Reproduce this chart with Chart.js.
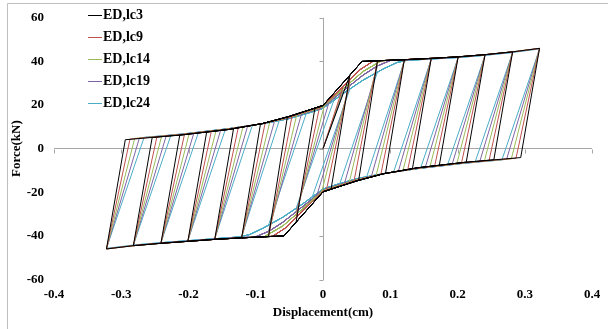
<!DOCTYPE html>
<html>
<head>
<meta charset="utf-8">
<script src="https://cdn.jsdelivr.net/npm/chart.js"></script>
<style>
  html, body { margin: 0; padding: 0; background: #fff; }
</style>
</head>
<body>
<canvas id="chart" width="608" height="329"></canvas>
<script>
// series
const seriesNames = ['ED,lc3', 'ED,lc9', 'ED,lc14', 'ED,lc19', 'ED,lc24'];
const seriesColors = ['#000000', '#c0504d', '#9bbb59', '#8064a2', '#4bacc6'];

// axis ticks
const xTicks = [-0.4, -0.3, -0.2, -0.1, 0, 0.1, 0.2, 0.3, 0.4];
const xTickLabels = ['-0.4', '-0.3', '-0.2', '-0.1', '0', '0.1', '0.2', '0.3', '0.4'];
const yTicks = [-60, -40, -20, 0, 20, 40, 60];
const yTickLabels = ['-60', '-40', '-20', '0', '20', '40', '60'];

// ED,lc3  [displacement cm, force kN]
const lc3Upper = [[-0.29,4.2],[-0.21,6.3],[-0.14,8.8],[-0.09,11.5],[-0.05,14.8],[-0.02,17.8],[0,19.8],[0.058,40],[0.121,40.8],[0.161,41.4],[0.201,42.1],[0.241,43.1],[0.282,44.4]];
const lc3Lower = [[0.29,-4.2],[0.21,-6.3],[0.14,-8.8],[0.09,-11.5],[0.05,-14.8],[0.02,-17.8],[0,-19.8],[-0.058,-40],[-0.121,-40.9],[-0.161,-41.6],[-0.201,-42.5],[-0.241,-43.4],[-0.282,-44.5]];
const lc3PosPeaks = [[0.04,33.7],[0.081,40.3],[0.121,40.8],[0.161,41.4],[0.201,42.1],[0.241,43.1],[0.282,44.4],[0.322,46.0]];
const lc3NegPeaks = [[-0.04,-33.7],[-0.081,-40.3],[-0.121,-40.9],[-0.161,-41.6],[-0.201,-42.5],[-0.241,-43.4],[-0.282,-44.5],[-0.322,-46.0]];
const lc3PosJoins = [[0.012,-18.6],[0.053,-14.5],[0.093,-11.3],[0.133,-9.2],[0.173,-7.6],[0.213,-6.2],[0.254,-5.1],[0.294,-4.1]];
const lc3NegJoins = [[-0.012,18.6],[-0.053,14.5],[-0.093,11.3],[-0.133,9.2],[-0.173,7.6],[-0.213,6.2],[-0.254,5.1],[-0.294,4.1]];

// ED,lc9
const lc9Upper = [[-0.29,4.3],[-0.21,6.4],[-0.14,8.9],[-0.09,11.5],[-0.05,14.6],[-0.02,17.6],[0,19.6],[0.03,28.5],[0.055,36.2],[0.075,40.2],[0.121,40.8],[0.161,41.4],[0.201,42.1],[0.241,43.1],[0.282,44.4]];
const lc9Lower = [[0.29,-4.3],[0.21,-6.4],[0.14,-8.9],[0.09,-11.5],[0.05,-14.6],[0.02,-17.6],[0,-19.6],[-0.03,-28.5],[-0.055,-36.2],[-0.075,-40.2],[-0.121,-40.9],[-0.161,-41.6],[-0.201,-42.5],[-0.241,-43.4],[-0.282,-44.5]];
const lc9PosPeaks = [[0.04,31.6],[0.081,40.3],[0.121,40.8],[0.161,41.4],[0.201,42.1],[0.241,43.1],[0.282,44.4],[0.322,46.0]];
const lc9NegPeaks = [[-0.04,-31.6],[-0.081,-40.3],[-0.121,-40.9],[-0.161,-41.6],[-0.201,-42.5],[-0.241,-43.4],[-0.282,-44.5],[-0.322,-46.0]];
const lc9PosJoins = [[0.005,-19.1],[0.046,-15.0],[0.086,-11.8],[0.126,-9.6],[0.166,-8.0],[0.206,-6.5],[0.247,-5.4],[0.287,-4.4]];
const lc9NegJoins = [[-0.005,19.1],[-0.046,15.0],[-0.086,11.8],[-0.126,9.6],[-0.166,8.0],[-0.206,6.5],[-0.247,5.4],[-0.287,4.4]];

// ED,lc14
const lc14Upper = [[-0.29,4.4],[-0.21,6.5],[-0.14,9.0],[-0.09,11.5],[-0.05,14.4],[-0.02,17.3],[0,19.3],[0.03,27.5],[0.06,35.5],[0.087,40.3],[0.121,40.8],[0.161,41.4],[0.201,42.1],[0.241,43.1],[0.282,44.4]];
const lc14Lower = [[0.29,-4.4],[0.21,-6.5],[0.14,-9.0],[0.09,-11.5],[0.05,-14.4],[0.02,-17.3],[0,-19.3],[-0.03,-27.5],[-0.06,-35.5],[-0.087,-40.3],[-0.121,-40.9],[-0.161,-41.6],[-0.201,-42.5],[-0.241,-43.4],[-0.282,-44.5]];
const lc14PosPeaks = [[0.04,30.2],[0.081,39.2],[0.121,40.8],[0.161,41.4],[0.201,42.1],[0.241,43.1],[0.282,44.4],[0.322,46.0]];
const lc14NegPeaks = [[-0.04,-30.2],[-0.081,-39.2],[-0.121,-40.9],[-0.161,-41.6],[-0.201,-42.5],[-0.241,-43.4],[-0.282,-44.5],[-0.322,-46.0]];
const lc14PosJoins = [[-0.002,-19.8],[0.039,-15.5],[0.079,-12.3],[0.119,-10.0],[0.159,-8.3],[0.199,-6.9],[0.24,-5.7],[0.28,-4.7]];
const lc14NegJoins = [[0.002,19.8],[-0.039,15.5],[-0.079,12.3],[-0.119,10.0],[-0.159,8.3],[-0.199,6.9],[-0.24,5.7],[-0.28,4.7]];

// ED,lc19
const lc19Upper = [[-0.29,4.5],[-0.21,6.6],[-0.14,9.1],[-0.09,11.5],[-0.05,14.2],[-0.02,17.0],[0,19.0],[0.03,26.5],[0.06,33.8],[0.08,37.8],[0.1,40.4],[0.121,40.7],[0.161,41.3],[0.201,42.0],[0.241,43.0],[0.282,44.3]];
const lc19Lower = [[0.29,-4.5],[0.21,-6.6],[0.14,-9.1],[0.09,-11.5],[0.05,-14.2],[0.02,-17.0],[0,-19.0],[-0.03,-26.5],[-0.06,-33.8],[-0.08,-37.8],[-0.1,-40.4],[-0.121,-40.8],[-0.161,-41.5],[-0.201,-42.4],[-0.241,-43.3],[-0.282,-44.4]];
const lc19PosPeaks = [[0.04,28.9],[0.081,37.9],[0.121,40.7],[0.161,41.3],[0.201,42.0],[0.241,43.0],[0.282,44.3],[0.322,45.9]];
const lc19NegPeaks = [[-0.04,-28.9],[-0.081,-37.9],[-0.121,-40.8],[-0.161,-41.5],[-0.201,-42.4],[-0.241,-43.3],[-0.282,-44.4],[-0.322,-45.9]];
const lc19PosJoins = [[-0.009,-21.3],[0.032,-15.9],[0.072,-12.7],[0.112,-10.4],[0.152,-8.7],[0.192,-7.2],[0.233,-6.0],[0.273,-4.9]];
const lc19NegJoins = [[0.009,21.3],[-0.032,15.9],[-0.072,12.7],[-0.112,10.4],[-0.152,8.7],[-0.192,7.2],[-0.233,6.0],[-0.273,4.9]];

// ED,lc24
const lc24Upper = [[-0.29,4.6],[-0.21,6.7],[-0.14,9.2],[-0.09,11.4],[-0.05,13.8],[-0.02,16.5],[0,18.5],[0.03,25.3],[0.06,31.5],[0.09,36.6],[0.11,39.5],[0.125,40.5],[0.161,41.1],[0.201,41.8],[0.241,42.8],[0.282,44.1]];
const lc24Lower = [[0.29,-4.6],[0.21,-6.7],[0.14,-9.2],[0.09,-11.4],[0.05,-13.8],[0.02,-16.5],[0,-18.5],[-0.03,-25.3],[-0.06,-31.5],[-0.09,-36.6],[-0.11,-39.5],[-0.125,-40.5],[-0.161,-41.3],[-0.201,-42.2],[-0.241,-43.1],[-0.282,-44.2]];
const lc24PosPeaks = [[0.04,27.4],[0.081,35.1],[0.121,40.2],[0.161,41.1],[0.201,41.8],[0.241,42.8],[0.282,44.1],[0.322,45.7]];
const lc24NegPeaks = [[-0.04,-27.4],[-0.081,-35.1],[-0.121,-40.2],[-0.161,-41.3],[-0.201,-42.2],[-0.241,-43.1],[-0.282,-44.2],[-0.322,-45.7]];
const lc24PosJoins = [[-0.016,-22.1],[0.025,-16.0],[0.065,-12.9],[0.105,-10.7],[0.145,-9.0],[0.185,-7.6],[0.226,-6.3],[0.266,-5.2]];
const lc24NegJoins = [[0.016,22.1],[-0.025,16.0],[-0.065,12.9],[-0.105,10.7],[-0.145,9.0],[-0.185,7.6],[-0.226,6.3],[-0.266,5.2]];

// put the read points in cycle order: branch -> peak -> unloading -> branch -> peak ...
function buildLoop(upper, lower, posPeaks, negPeaks, posJoins, negJoins) {
  const pts = [{ x: 0, y: 0 }];
  for (let k = 0; k < posPeaks.length; k++) {
    let from = pts[pts.length - 1].x;
    upper.forEach(p => { if (p[0] > from && p[0] < posPeaks[k][0]) pts.push({ x: p[0], y: p[1] }); });
    pts.push({ x: posPeaks[k][0], y: posPeaks[k][1] });
    pts.push({ x: posJoins[k][0], y: posJoins[k][1] });
    from = posJoins[k][0];
    lower.forEach(p => { if (p[0] < from && p[0] > negPeaks[k][0]) pts.push({ x: p[0], y: p[1] }); });
    pts.push({ x: negPeaks[k][0], y: negPeaks[k][1] });
    pts.push({ x: negJoins[k][0], y: negJoins[k][1] });
  }
  // last reloading runs back along the upper branch
  const from = pts[pts.length - 1].x;
  upper.forEach(p => { if (p[0] > from && p[0] <= 0) pts.push({ x: p[0], y: p[1] }); });
  return pts;
}

const loops = [
  buildLoop(lc3Upper, lc3Lower, lc3PosPeaks, lc3NegPeaks, lc3PosJoins, lc3NegJoins),
  buildLoop(lc9Upper, lc9Lower, lc9PosPeaks, lc9NegPeaks, lc9PosJoins, lc9NegJoins),
  buildLoop(lc14Upper, lc14Lower, lc14PosPeaks, lc14NegPeaks, lc14PosJoins, lc14NegJoins),
  buildLoop(lc19Upper, lc19Lower, lc19PosPeaks, lc19NegPeaks, lc19PosJoins, lc19NegJoins),
  buildLoop(lc24Upper, lc24Lower, lc24PosPeaks, lc24NegPeaks, lc24PosJoins, lc24NegJoins)
];

const labelFont = { family: '"Liberation Serif", "Times New Roman", serif', size: 13, weight: 'bold' };
const axisGray = '#a6a6a6';

// axis tick marks on the zero lines, legend and the frame edges
const extras = {
  id: 'extras',
  beforeDatasetsDraw(chart) {
    const { ctx, scales: { x, y } } = chart;
    const x0 = Math.round(x.getPixelForValue(0)) + 0.5;
    const y0 = Math.round(y.getPixelForValue(0)) + 0.5;
    ctx.save();
    ctx.strokeStyle = axisGray;
    ctx.lineWidth = 1;
    ctx.beginPath();
    yTicks.forEach(v => {
      const py = Math.round(y.getPixelForValue(v)) + 0.5;
      ctx.moveTo(x0 - 4, py);
      ctx.lineTo(x0, py);
    });
    xTicks.forEach(v => {
      const px = Math.round(x.getPixelForValue(v)) + 0.5;
      ctx.moveTo(px, y0);
      ctx.lineTo(px, y0 + 4);
    });
    ctx.stroke();
    ctx.restore();
  },
  afterDraw(chart) {
    const ctx = chart.ctx;
    ctx.save();
    // frame: only the top and left edges are inside the picture
    ctx.strokeStyle = '#bfbfbf';
    ctx.lineWidth = 1;
    ctx.beginPath();
    ctx.moveTo(7.5, 329);
    ctx.lineTo(7.5, 3.5);
    ctx.lineTo(608, 3.5);
    ctx.stroke();

    ctx.font = 'bold 14px "Liberation Serif", "Times New Roman", serif';
    ctx.textBaseline = 'middle';
    ctx.fillStyle = '#000';
    seriesNames.forEach((name, i) => {
      const ly = 15 + i * 22;
      ctx.strokeStyle = seriesColors[i];
      ctx.beginPath();
      ctx.moveTo(88, Math.round(ly) + 0.5);
      ctx.lineTo(102, Math.round(ly) + 0.5);
      ctx.stroke();
      ctx.fillText(name, 103, ly);
    });
    ctx.restore();
  }
};

new Chart(document.getElementById('chart'), {
  type: 'scatter',
  data: {
    datasets: seriesNames.map((name, i) => ({
      label: name,
      data: loops[i],
      showLine: true,
      borderColor: seriesColors[i],
      backgroundColor: seriesColors[i],
      borderWidth: 1,
      pointRadius: 0,
      tension: 0
    }))
  },
  options: {
    responsive: false,
    animation: false,
    layout: { padding: { top: 12.5, right: 16, left: 0, bottom: 0 } },
    plugins: {
      legend: { display: false },
      tooltip: { enabled: false }
    },
    scales: {
      x: {
        type: 'linear',
        min: -0.4,
        max: 0.4,
        afterBuildTicks: s => { s.ticks = xTicks.map(v => ({ value: v })); },
        afterFit: s => { s.height = 49.5; },
        ticks: {
          callback: (v, i) => xTickLabels[i],
          font: labelFont,
          color: '#000',
          padding: 7,
          maxRotation: 0
        },
        grid: {
          color: c => (c.tick && c.tick.value === 0 ? axisGray : 'rgba(0,0,0,0)'),
          drawTicks: false
        },
        border: { display: false },
        title: {
          display: true,
          text: 'Displacement(cm)',
          font: labelFont,
          color: '#000',
          padding: { top: 0, bottom: 9 }
        }
      },
      y: {
        type: 'linear',
        min: -60,
        max: 60,
        afterBuildTicks: s => { s.ticks = yTicks.map(v => ({ value: v })); },
        afterFit: s => { s.width = 54; },
        ticks: {
          callback: (v, i) => yTickLabels[i],
          font: labelFont,
          color: '#000',
          padding: 10
        },
        grid: {
          color: c => (c.tick && c.tick.value === 0 ? axisGray : 'rgba(0,0,0,0)'),
          drawTicks: false
        },
        border: { display: false },
        title: {
          display: true,
          text: 'Force(kN)',
          font: labelFont,
          color: '#000',
          padding: { top: 9, bottom: 0 }
        }
      }
    }
  },
  plugins: [extras]
});
</script>
</body>
</html>
